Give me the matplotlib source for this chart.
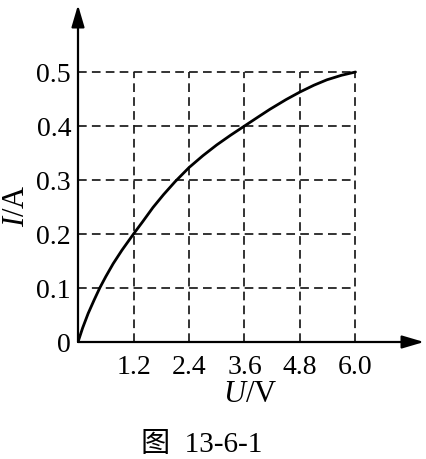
import matplotlib
matplotlib.use("Agg")
import matplotlib.pyplot as plt

# Data
u_ticks = [1.2, 2.4, 3.6, 4.8, 6.0]
u_tick_labels = ["1.2", "2.4", "3.6", "4.8", "6.0"]
i_ticks = [0.0, 0.1, 0.2, 0.3, 0.4, 0.5]
i_tick_labels = ["0", "0.1", "0.2", "0.3", "0.4", "0.5"]

curve_u = [0.0, 0.1, 0.22, 0.35, 0.47, 0.6, 0.76, 0.95, 1.2, 1.4, 1.62, 1.85, 2.1,
           2.4, 2.7, 3.0, 3.3, 3.6, 3.9, 4.15, 4.5, 4.8, 5.1, 5.38, 5.7, 6.0]
curve_i = [0.0, 0.026, 0.053, 0.078, 0.1, 0.121, 0.145, 0.17, 0.2, 0.223, 0.249, 0.273, 0.297,
           0.323, 0.345, 0.365, 0.383, 0.4, 0.417, 0.431, 0.449, 0.463, 0.4755, 0.4855, 0.494, 0.5]

plt.rcParams["font.family"] = ["Liberation Serif", "Noto Sans CJK SC"]
plt.rcParams["mathtext.fontset"] = "custom"
plt.rcParams["mathtext.it"] = "Liberation Serif:italic"
plt.rcParams["mathtext.rm"] = "Liberation Serif"

W, H = 426, 459
fig = plt.figure(figsize=(W / 100, H / 100), dpi=100)
x0, y0 = 78, 342
x_tip, y_tip = 424, 5
ax = fig.add_axes([x0 / W, (H - y0) / H, (x_tip - x0) / W, (y0 - y_tip) / H])
px_per_u = (355.5 - x0) / 6.0
px_per_i = (y0 - 72) / 0.5
ax.set_xlim(0, (x_tip - x0) / px_per_u)
ax.set_ylim(0, (y0 - y_tip) / px_per_i)

for s in ax.spines.values():
    s.set_visible(False)

# grid
grid_kw = dict(color="#1a1a1a", lw=1.25, linestyle=(0, (5.0, 3.0)), zorder=1)
for yv in i_ticks[1:]:
    ax.plot([0, u_ticks[-1]], [yv, yv], **grid_kw)
for xv in u_ticks:
    ax.plot([xv, xv], [0, i_ticks[-1]], **grid_kw)

# curve
ax.plot(curve_u, curve_i, color="black", lw=2.0, zorder=3,
        solid_capstyle="round", solid_joinstyle="round")

# axes with arrows
xmax = ax.get_xlim()[1]
ymax = ax.get_ylim()[1]
arrow_kw = dict(arrowstyle="-|>,head_length=0.95,head_width=0.28", lw=1.6, color="black",
                shrinkA=0, shrinkB=0, mutation_scale=14)
ax.annotate("", xy=(xmax, 0), xytext=(0, 0), arrowprops=arrow_kw, annotation_clip=False, zorder=4)
ax.annotate("", xy=(0, ymax), xytext=(0, 0), arrowprops=arrow_kw, annotation_clip=False, zorder=4)

ax.set_xticks(u_ticks)
ax.set_xticklabels(u_tick_labels, fontsize=20)
ax.set_yticks(i_ticks)
ax.set_yticklabels(i_tick_labels, fontsize=20)
ax.tick_params(axis="x", length=0, pad=9)
ax.tick_params(axis="y", length=0, pad=5)

fig.text(250 / W, 1 - 395 / H, r"$\mathit{U}$/V", fontsize=22, ha="center", va="center")
fig.text(16 / W, 1 - 206 / H, r"$\mathit{I}$/A", fontsize=22, ha="center", va="center", rotation=90)
fig.text(202 / W, 1 - 445 / H, "图  13-6-1", fontsize=21, ha="center", va="center")

fig.savefig("out.png", dpi=100, facecolor="white")
